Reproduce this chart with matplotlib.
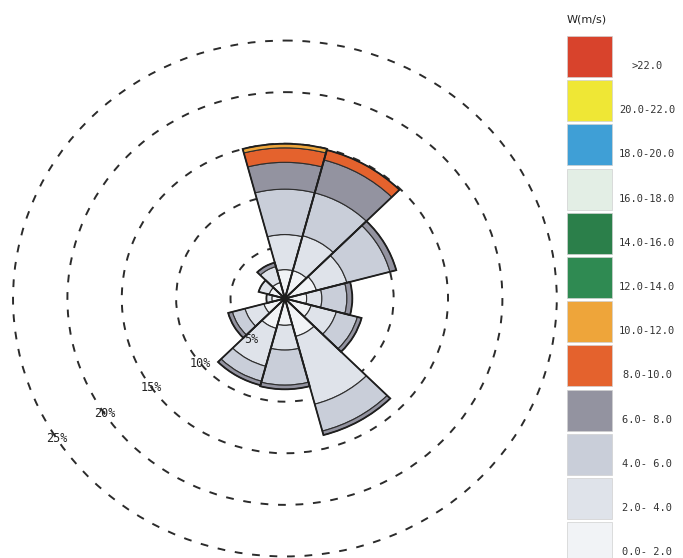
import numpy as np
import matplotlib
matplotlib.use('Agg')
import matplotlib.pyplot as plt

# 12 sectors of 30 degrees, bearings measured clockwise from north
directions = ['N', 'NNE', 'ENE', 'E', 'ESE', 'SSE', 'S', 'SSW', 'WSW', 'W', 'WNW', 'NNW']
bearings = np.arange(12) * 30.0

# frequency (%) per speed class and direction
f_0_2   = [2.8, 2.8, 3.0, 2.0, 2.5, 3.8, 2.6, 3.0, 2.0, 1.2, 1.5, 1.6]
f_2_4   = [3.4, 3.5, 2.9, 1.4, 2.4, 6.8, 2.4, 3.8, 1.8, 0.5, 1.0, 1.6]
f_4_6   = [4.4, 4.3, 4.1, 2.3, 2.0, 2.7, 3.4, 1.5, 1.2, 0.0, 0.0, 0.0]
f_6_8   = [2.6, 3.3, 0.6, 0.5, 0.4, 0.4, 0.4, 0.4, 0.4, 0.0, 0.0, 0.4]
f_8_10  = [1.4, 1.0, 0.0, 0.0, 0.0, 0.0, 0.0, 0.0, 0.0, 0.0, 0.0, 0.0]
f_10_12 = [0.4, 0.0, 0.0, 0.0, 0.0, 0.0, 0.0, 0.0, 0.0, 0.0, 0.0, 0.0]

# legend classes, top to bottom
class_labels = ['>22.0', '20.0-22.0', '18.0-20.0', '16.0-18.0', '14.0-16.0', '12.0-14.0',
                '10.0-12.0', '8.0-10.0', '6.0- 8.0', '4.0- 6.0', '2.0- 4.0', '0.0- 2.0']
class_colors = ['#d8432c', '#efe735', '#3f9fd6', '#e3eee5', '#2b7f4a', '#2f8a52',
                '#eea53a', '#e4622d', '#9393a0', '#c9ced9', '#dfe3ea', '#f1f3f6']

ring_values = [5, 10, 15, 20, 25]
ring_label_bearing = [218, 231, 235, 236, 237]

stack = [f_0_2, f_2_4, f_4_6, f_6_8, f_8_10, f_10_12]
stack_colors = class_colors[::-1][:len(stack)]

fig = plt.figure(figsize=(6.83, 5.58), dpi=100)
ax = fig.add_axes([11.4 / 683, 0.0, 547 / 683, 519 / 558], projection='polar')
ax.set_aspect('auto')
ax.set_theta_zero_location('N')
ax.set_theta_direction(-1)

theta = np.deg2rad(bearings)
width = np.deg2rad(30)
bottom = np.zeros(12)
for vals, col in zip(stack, stack_colors):
    vals = np.array(vals)
    keep = vals > 0
    ax.bar(theta[keep], vals[keep], width=width, bottom=bottom[keep], color=col,
           edgecolor='#2e2e2e', linewidth=0.8, zorder=3)
    bottom += vals

# heavier outline round each sector
ax.bar(theta, bottom, width=width, fill=False, edgecolor='#1e1e1e', linewidth=1.3, zorder=4)

ax.set_rlim(0, 25.15)
ax.set_rgrids(ring_values, labels=[''] * len(ring_values))
ax.set_xticks([])
ax.yaxis.grid(True, color='#2b2b2b', linestyle=(0, (4, 5)), linewidth=1.4)
ax.xaxis.grid(False)
ax.set_axisbelow(True)
ax.spines['polar'].set_visible(False)
ax.patch.set_alpha(0)

for r, b in zip(ring_values, ring_label_bearing):
    ax.text(np.deg2rad(b), r, '%d%%' % r, ha='center', va='center',
            family='DejaVu Sans Mono', fontsize=8.5, color='#222222', zorder=5)

# legend column on the right, in pixel units
lg = fig.add_axes([567 / 683, 0.0, 116 / 683, 1.0])
lg.set_xlim(0, 116)
lg.set_ylim(558, 0)
lg.axis('off')
tops = 36 + 44.2 * np.arange(len(class_labels))
lg.bar(np.zeros(len(tops)), np.full(len(tops), 41.0), width=45, bottom=tops, align='edge',
       color=class_colors, edgecolor='#d0d0d0', linewidth=0.5)
for t, lab in zip(tops, class_labels):
    lg.text(80, t + 30, lab, ha='center', va='center', family='DejaVu Sans Mono',
            fontsize=7.5, color='#333333', clip_on=False)
lg.text(0, 20, 'W(m/s)', ha='left', va='center', fontsize=8, color='#222222')

fig.savefig('out.png', dpi=100)
